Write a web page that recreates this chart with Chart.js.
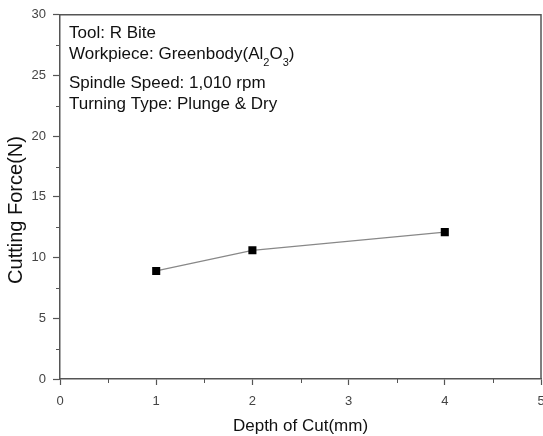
<!DOCTYPE html>
<html><head><meta charset="utf-8">
<script src="https://cdn.jsdelivr.net/npm/chart.js@4"></script>
<style>html,body{margin:0;padding:0;background:#fff}#wrap{width:543px;height:436px}</style>
</head><body><div id="wrap"><canvas id="c" width="543" height="436"></canvas></div>
<script>
const depthOfCut = [1, 2, 4];
const cuttingForce = [8.9, 10.6, 12.1];
const xTicks = [0, 1, 2, 3, 4, 5];
const yTicks = [0, 5, 10, 15, 20, 25, 30];
const xTitle = 'Depth of Cut(mm)';
const yTitle = 'Cutting Force(N)';
const annotations = ['Tool: R Bite', 'Workpiece: Greenbody(Al', 'Spindle Speed: 1,010 rpm', 'Turning Type: Plunge & Dry'];

const AX = '#555';
const FONT = 'Liberation Sans, Arial, sans-serif';

const framePlugin = {
  id: 'frame',
  afterDraw(chart) {
    const {ctx, chartArea: a, scales} = chart;
    ctx.save();
    ctx.strokeStyle = AX; ctx.lineWidth = 1.5;
    ctx.beginPath();
    ctx.moveTo(a.left, a.top); ctx.lineTo(a.right, a.top); ctx.lineTo(a.right, a.bottom);
    ctx.stroke();
    // minor ticks
    ctx.lineWidth = 1;
    for (let i = 0; i < xTicks.length - 1; i++) {
      const px = Math.round(scales.x.getPixelForValue((xTicks[i] + xTicks[i + 1]) / 2)) + 0.5;
      ctx.beginPath(); ctx.moveTo(px, a.bottom); ctx.lineTo(px, a.bottom + 4); ctx.stroke();
    }
    for (let i = 0; i < yTicks.length - 1; i++) {
      const py = Math.round(scales.y.getPixelForValue((yTicks[i] + yTicks[i + 1]) / 2)) + 0.5;
      ctx.beginPath(); ctx.moveTo(a.left, py); ctx.lineTo(a.left - 4, py); ctx.stroke();
    }
    // y axis title
    ctx.fillStyle = '#111';
    ctx.save();
    ctx.translate(22, 210);
    ctx.rotate(-Math.PI / 2);
    ctx.font = '20px ' + FONT;
    ctx.textAlign = 'center';
    ctx.textBaseline = 'alphabetic';
    ctx.fillText(yTitle, 0, 0);
    ctx.restore();
    // annotation text
    ctx.font = '17px ' + FONT;
    ctx.textBaseline = 'alphabetic';
    const x0 = a.left + 9;
    const ys = [38, 59, 88, 109];
    ctx.fillText(annotations[0], x0, ys[0]);
    let x = x0;
    const t1 = annotations[1];
    ctx.fillText(t1, x, ys[1]); x += ctx.measureText(t1).width;
    ctx.font = '11px ' + FONT;
    ctx.fillText('2', x, ys[1] + 7); x += ctx.measureText('2').width;
    ctx.font = '17px ' + FONT;
    ctx.fillText('O', x, ys[1]); x += ctx.measureText('O').width;
    ctx.font = '11px ' + FONT;
    ctx.fillText('3', x, ys[1] + 7); x += ctx.measureText('3').width;
    ctx.font = '17px ' + FONT;
    ctx.fillText(')', x, ys[1]);
    ctx.fillText(annotations[2], x0, ys[2]);
    ctx.fillText(annotations[3], x0, ys[3]);
    ctx.restore();
  }
};

const noPad = s => { s.paddingRight = 0; s.paddingLeft = 0; };

new Chart(document.getElementById('c'), {
  type: 'line',
  data: {
    datasets: [{
      data: depthOfCut.map((d, i) => ({x: d, y: cuttingForce[i]})),
      borderColor: '#888',
      borderWidth: 1.2,
      pointStyle: 'rect',
      pointRadius: 5.7,
      pointBackgroundColor: '#000',
      pointBorderColor: '#000',
      pointBorderWidth: 0,
      tension: 0
    }]
  },
  options: {
    responsive: false,
    animation: false,
    events: [],
    layout: {autoPadding: false, padding: {top: 14, right: 2, left: 0, bottom: 0}},
    plugins: {legend: {display: false}, tooltip: {enabled: false}},
    scales: {
      x: {
        type: 'linear', min: 0, max: 5,
        afterBuildTicks: s => { s.ticks = xTicks.map(v => ({value: v})); },
        afterFit: s => { s.height = 57; noPad(s); },
        grid: {drawOnChartArea: false, tickLength: 6, color: AX, tickWidth: 1.2},
        border: {color: AX, width: 1.5},
        ticks: {color: '#444', font: {family: FONT, size: 13}, padding: 9, maxRotation: 0},
        title: {display: true, text: xTitle, color: '#111', font: {family: FONT, size: 17}, padding: {top: 0, bottom: -1}}
      },
      y: {
        type: 'linear', min: 0, max: 30,
        afterBuildTicks: s => { s.ticks = yTicks.map(v => ({value: v})); },
        afterFit: s => { s.width = 60; },
        grid: {drawOnChartArea: false, tickLength: 7, color: AX, tickWidth: 1.2},
        border: {color: AX, width: 1.5},
        ticks: {color: '#444', font: {family: FONT, size: 13}, padding: 7},
        title: {display: false}
      }
    }
  },
  plugins: [framePlugin]
});
</script></body></html>
